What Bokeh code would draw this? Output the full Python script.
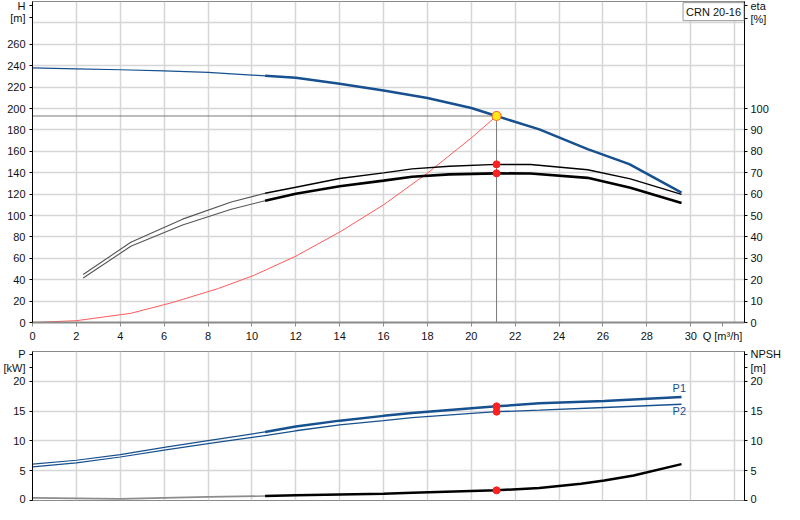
import numpy as np
from bokeh.plotting import figure
from bokeh.models import Range1d, LinearAxis, FixedTicker, Label
from bokeh.layouts import column
from bokeh.embed import file_html
from bokeh.resources import INLINE

# ---------------- data ----------------
title_text = "CRN 20-16"
q_ticks = [0, 2, 4, 6, 8, 10, 12, 14, 16, 18, 20, 22, 24, 26, 28, 30]
q_grid = q_ticks + [32]
h_ticks = list(range(0, 261, 20))
h_grid = list(range(0, 281, 20))
eta_ticks = list(range(0, 101, 10))
p_ticks = [0, 5, 10, 15, 20]

# axis titles, written as extra tick labels at the ends of the axes
q_title = {31.45: "Q [m³/h]"}
h_title = {296: "H", 285: "[m]"}
eta_title = {148: "eta", 142: "[%]"}
p_title = {24.5: "P", 22.3: "[kW]"}
npsh_title = {24.5: "NPSH", 22.3: "[m]"}

q_split = 10.6  # start of the thick (recommended) part of every curve

q_h = [0, 2, 4, 6, 8, 10.6, 12, 14, 16, 18, 20, 21.15, 23.1, 25.3, 27.2, 29.58]
h_vals = [238, 237, 236.2, 235.2, 233.8, 230.5, 228.7, 223.1, 216.9, 209.8, 200.5, 193, 180.5, 162, 148, 121.3]

q_eta = [2.31, 4.48, 6.84, 9.06, 10.6, 12, 14, 16, 17.3, 19, 21.15, 22.7, 25.3, 27.25, 29.58]
eta1 = [22.4, 37.5, 48.3, 56.3, 60.4, 63.2, 67.3, 69.9, 71.8, 73.0, 73.9, 73.8, 71.4, 67.1, 59.9]
eta2 = [20.8, 35.6, 45.6, 52.9, 56.9, 60.2, 63.7, 66.3, 68.1, 69.2, 69.7, 69.6, 67.6, 63.0, 55.8]

q_sys = [0, 2, 4.48, 6.4, 8.47, 10.1, 12, 14, 16, 18, 20, 21.15]
h_sys = [0, 1.7, 8.6, 18.8, 31.8, 44.1, 62, 84.5, 110, 139.6, 172.5, 193]

q_p = [0, 2, 4, 6, 8, 9.36, 10.6, 12, 14, 16, 17.3, 21.15, 23.1, 26.06, 29.58]
p1 = [6.1, 6.75, 7.7, 8.9, 10.05, 10.8, 11.5, 12.4, 13.4, 14.2, 14.7, 15.8, 16.3, 16.7, 17.35]
p2 = [5.65, 6.3, 7.3, 8.45, 9.55, 10.25, 10.9, 11.7, 12.7, 13.4, 13.9, 14.9, 15.15, 15.6, 16.15]

q_npsh = [0, 4, 8, 10.6, 12, 16, 17.3, 21.15, 23.1, 25, 26.06, 27.4, 29.58]
npsh = [0.44, 0.28, 0.6, 0.75, 0.87, 1.15, 1.3, 1.7, 2.1, 2.8, 3.35, 4.2, 6.1]

q_op = 21.15
h_op = 193
eta1_op = 73.9
eta2_op = 69.7
p1_op = 15.8
p2_op = 14.9
npsh_op = 1.7

# ---------------- style ----------------
FONT = "Liberation Sans"
FS = "11px"
BLUE = "#17508f"
GRID = "#d6d6d6"
DOT = "#ff2020"
W = 784
LEFT = 30
RIGHT = 37

x_range = Range1d(0, 32.45)


def thick(q, v):
    q = np.asarray(q, float)
    v = np.asarray(v, float)
    m = q >= q_split
    return q[m], v[m]


def thin(q, v):
    q = np.asarray(q, float)
    v = np.asarray(v, float)
    m = q <= q_split
    return q[m], v[m]


def style_axis(ax, color="#000000", width=1, standoff=3):
    ax.axis_line_color = color
    ax.axis_line_width = width
    ax.major_tick_line_color = color
    ax.major_tick_out = 3
    ax.major_tick_in = 0
    ax.minor_tick_line_color = None
    ax.major_label_text_font = FONT
    ax.major_label_text_font_size = FS
    ax.major_label_text_color = "#111111"
    ax.major_label_standoff = standoff


# ---------------- top chart: H and eta ----------------
top = figure(width=W, height=344, x_range=x_range, y_range=Range1d(0, 300),
             output_backend="svg", toolbar_location=None,
             min_border_left=LEFT, min_border_right=RIGHT, min_border_top=1, min_border_bottom=0)
top.extra_y_ranges = {"eta": Range1d(0, 150)}
top.outline_line_color = "#8a8a8a"
top.background_fill_color = "white"

top.xaxis.ticker = FixedTicker(ticks=q_ticks + list(q_title))
top.xaxis.major_label_overrides = q_title
style_axis(top.xaxis[0], "#8a8a8a", 2)
top.xaxis.major_tick_out = 4
top.yaxis.ticker = FixedTicker(ticks=h_ticks + list(h_title))
top.yaxis.major_label_overrides = h_title
style_axis(top.yaxis[0], standoff=4)

eta_axis = LinearAxis(y_range_name="eta", ticker=FixedTicker(ticks=eta_ticks + list(eta_title)),
                      major_label_overrides=eta_title)
style_axis(eta_axis)
top.add_layout(eta_axis, "right")

top.xgrid.ticker = FixedTicker(ticks=q_grid)
top.ygrid.ticker = FixedTicker(ticks=h_grid)
for g in (top.xgrid[0], top.ygrid[0]):
    g.grid_line_color = GRID
    g.grid_line_width = 1.5

# operating point guide lines
top.line([0, q_op], [h_op, h_op], line_color="#7a7a7a", line_width=1)
top.line([q_op, q_op], [0, h_op], line_color="#7a7a7a", line_width=1)

# system curve
top.line(q_sys, h_sys, line_color="#ff5a5a", line_width=1)

# efficiency curves
for e in (eta1, eta2):
    x, y = thin(q_eta, e)
    top.line(x, y, y_range_name="eta", line_color="#555555", line_width=1.1)
x, y = thick(q_eta, eta1)
top.line(x, y, y_range_name="eta", line_color="#000000", line_width=1.4)
x, y = thick(q_eta, eta2)
top.line(x, y, y_range_name="eta", line_color="#000000", line_width=2.6)

# H curve
x, y = thin(q_h, h_vals)
top.line(x, y, line_color=BLUE, line_width=1.2)
x, y = thick(q_h, h_vals)
top.line(x, y, line_color=BLUE, line_width=2.5)

top.scatter([q_op, q_op], [eta1_op, eta2_op], y_range_name="eta", size=7,
            fill_color=DOT, line_color=DOT)
top.scatter([q_op], [h_op], size=9, fill_color="#ffe81a", line_color="#ff6a1a", line_width=1.2)

top.add_layout(Label(x=31.04, y=290.5, text=title_text, text_font=FONT, text_font_size=FS,
                     text_color="#111111", text_align="center", text_baseline="middle",
                     background_fill_color="white", border_line_color="#9a9a9a",
                     padding=3))

# ---------------- bottom chart: P and NPSH ----------------
bot = figure(width=W, height=160, x_range=x_range, y_range=Range1d(0, 25),
             output_backend="svg", toolbar_location=None,
             min_border_left=LEFT, min_border_right=RIGHT, min_border_top=7, min_border_bottom=4)
bot.outline_line_color = "#8a8a8a"
bot.xaxis.visible = False
bot.yaxis.ticker = FixedTicker(ticks=p_ticks + list(p_title))
bot.yaxis.major_label_overrides = p_title
style_axis(bot.yaxis[0], standoff=4)
npsh_axis = LinearAxis(ticker=FixedTicker(ticks=p_ticks + list(npsh_title)),
                       major_label_overrides=npsh_title)
style_axis(npsh_axis)
bot.add_layout(npsh_axis, "right")

bot.xgrid.ticker = FixedTicker(ticks=q_grid)
bot.ygrid.ticker = FixedTicker(ticks=p_ticks)
for g in (bot.xgrid[0], bot.ygrid[0]):
    g.grid_line_color = GRID
    g.grid_line_width = 1.5

x, y = thin(q_npsh, npsh)
bot.line(x, y, line_color="#8c8c8c", line_width=1.6)
x, y = thick(q_npsh, npsh)
bot.line(x, y, line_color="#000000", line_width=2.5)

x, y = thin(q_p, p1)
bot.line(x, y, line_color=BLUE, line_width=1.2)
x, y = thin(q_p, p2)
bot.line(x, y, line_color=BLUE, line_width=1.2)
x, y = thick(q_p, p1)
bot.line(x, y, line_color=BLUE, line_width=2.5)
x, y = thick(q_p, p2)
bot.line(x, y, line_color=BLUE, line_width=1.3)

bot.scatter([q_op, q_op, q_op], [p1_op, p2_op, npsh_op], size=7, fill_color=DOT, line_color=DOT)

for txt, yv in (("P1", 18.8), ("P2", 15.1)):
    bot.add_layout(Label(x=q_p[-1] - 0.1, y=yv, text=txt, text_font=FONT, text_font_size=FS,
                         text_color=BLUE, text_align="center", text_baseline="middle"))

layout = column(top, bot, spacing=0)
open("out.html", "w").write(file_html(layout, INLINE))
